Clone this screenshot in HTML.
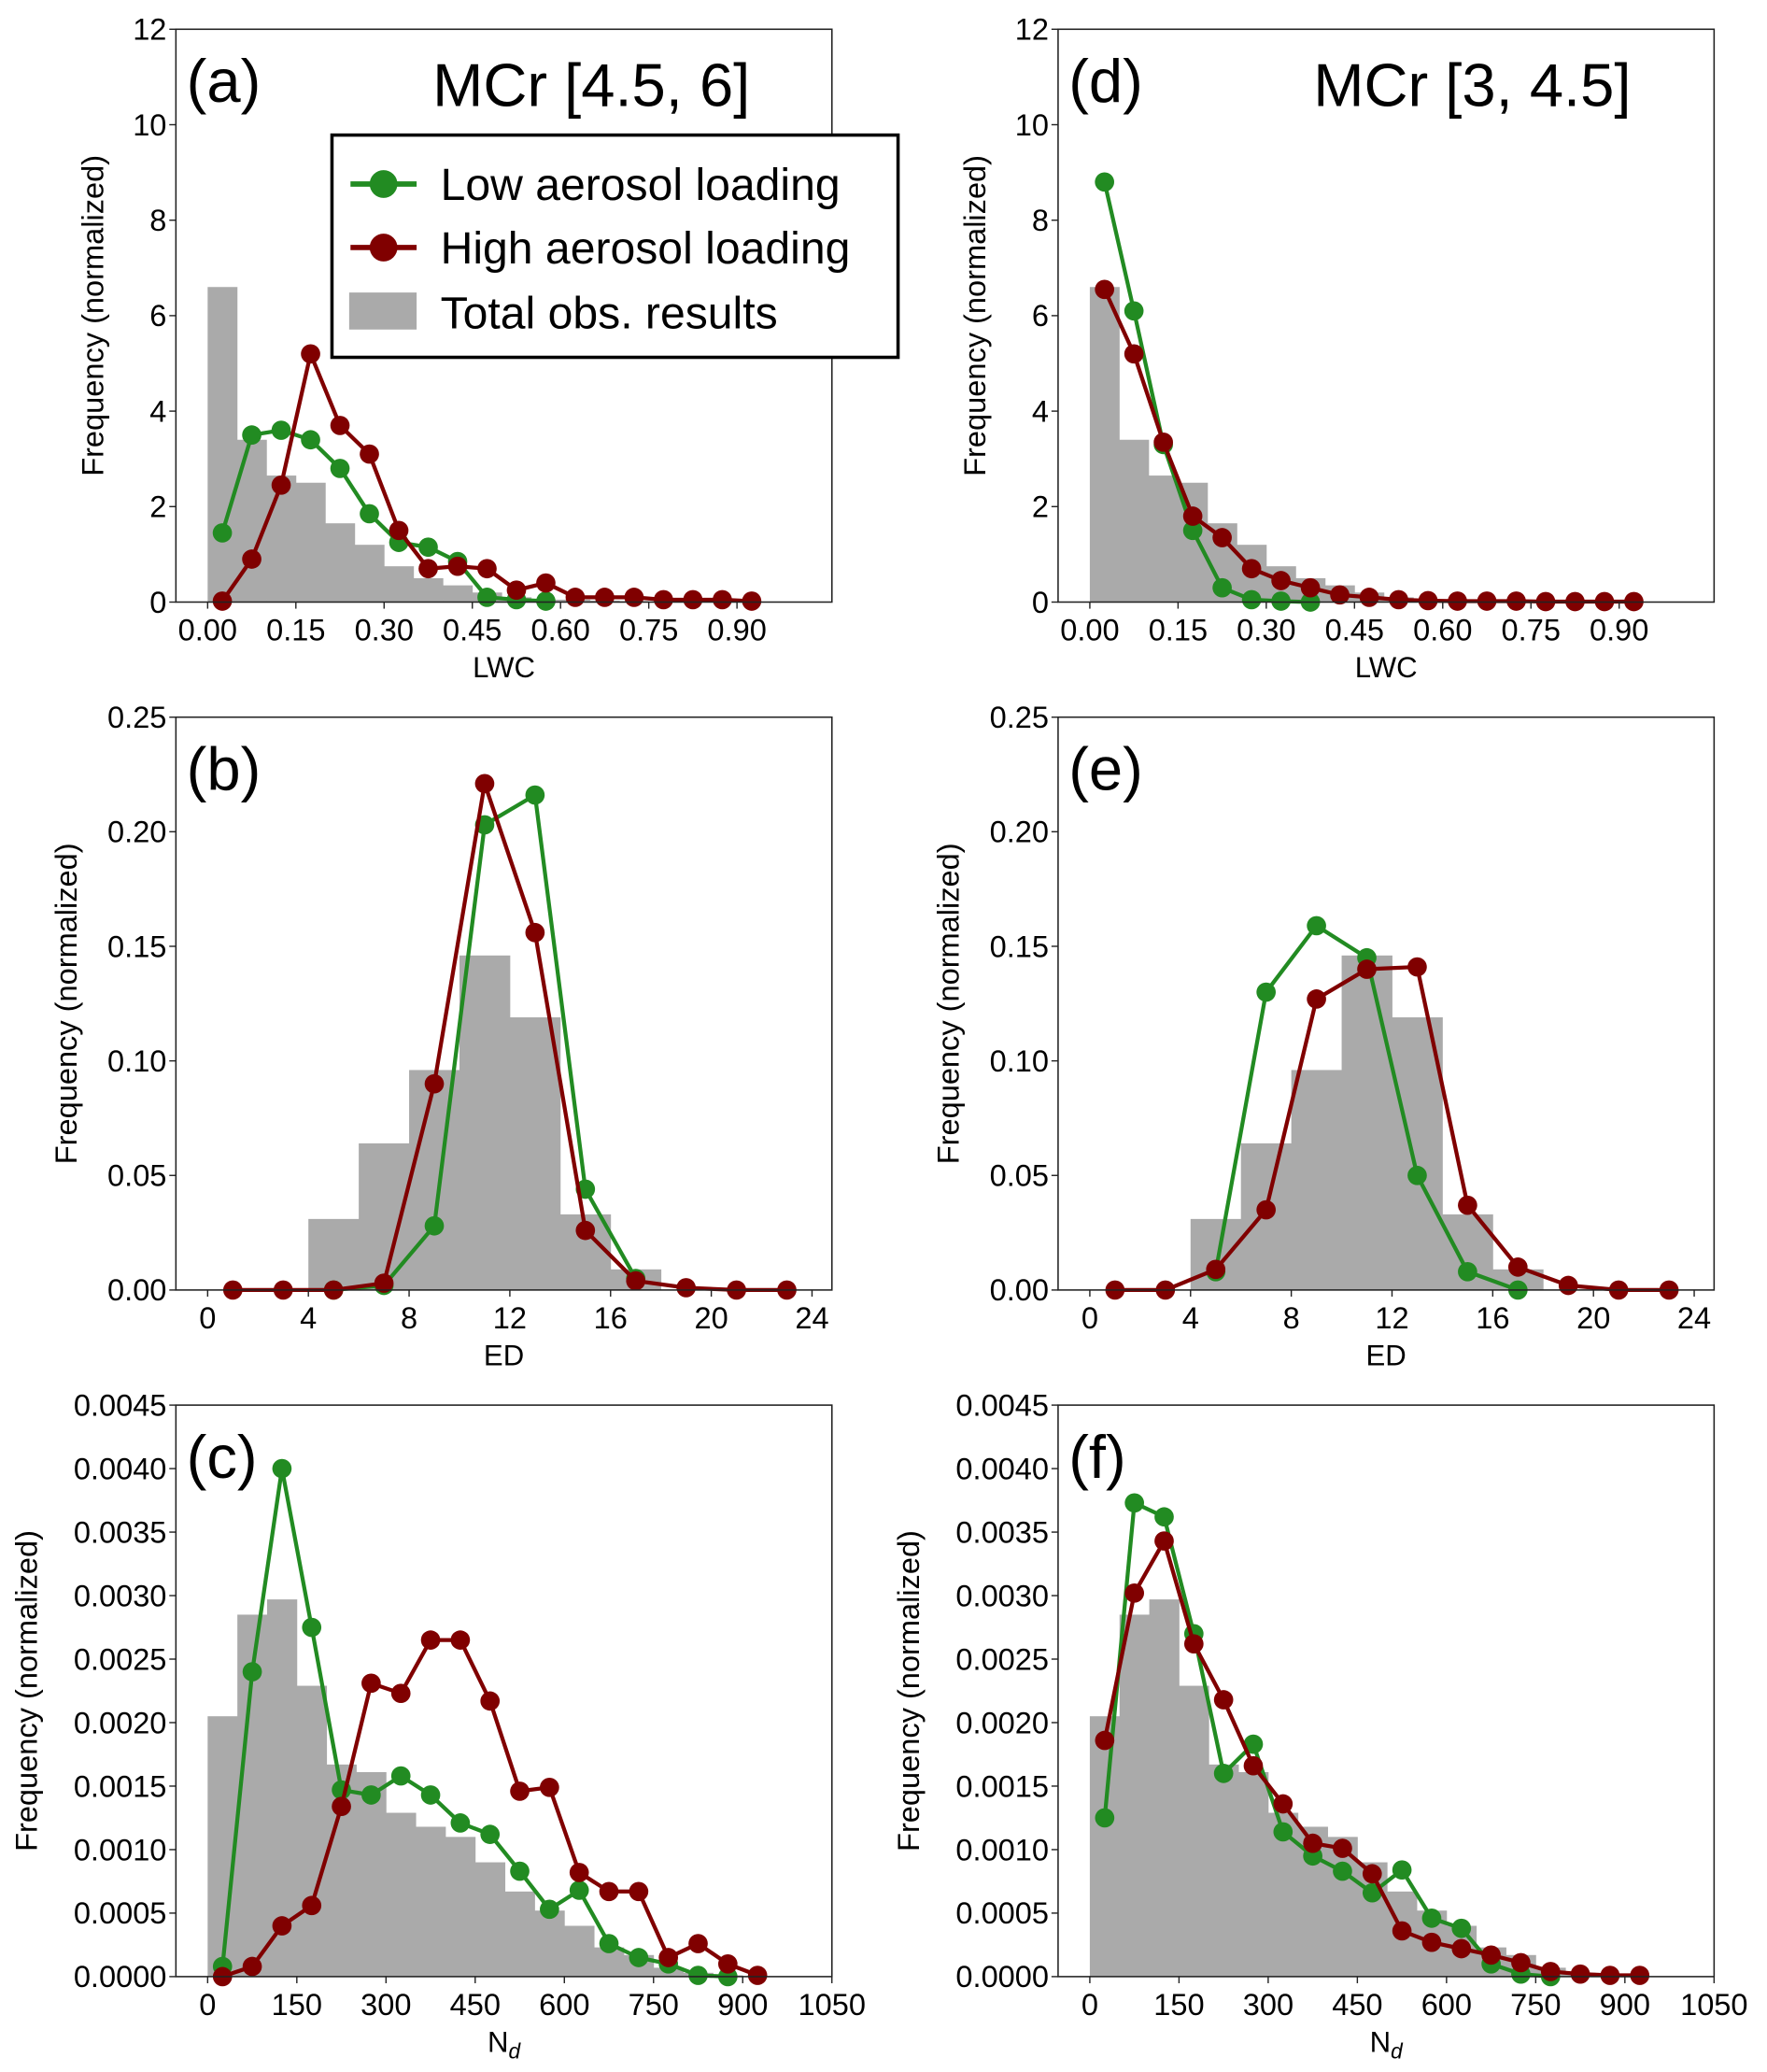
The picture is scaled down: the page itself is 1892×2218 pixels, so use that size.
<!DOCTYPE html>
<html><head><meta charset="utf-8">
<style>
html,body{margin:0;padding:0;background:#fff;}
svg{display:block;}
text{font-family:"Liberation Sans",sans-serif;fill:#000;}
</style></head>
<body>
<svg id="fig" width="1892" height="2218" viewBox="0 0 1336 1566" xmlns="http://www.w3.org/2000/svg"></svg>
<script>
// ---- data ----
const lwcBars = [6.6,3.4,2.65,2.5,1.65,1.2,0.75,0.5,0.35,0.2,0.1,0.05,0.05,0.03,0.02,0.01,0.01,0.01,0.01];
const aLow = [1.45,3.5,3.6,3.4,2.8,1.85,1.25,1.15,0.85,0.1,0.05,0.02];
const aHigh = [0.02,0.9,2.45,5.2,3.7,3.1,1.5,0.7,0.75,0.7,0.25,0.4,0.1,0.1,0.1,0.05,0.05,0.05,0.02];
const dLow = [8.8,6.1,3.3,1.5,0.3,0.05,0.02,0];
const dHigh = [6.55,5.2,3.35,1.8,1.35,0.7,0.45,0.3,0.15,0.1,0.05,0.03,0.02,0.02,0.02,0.01,0.01,0.01,0.01];
const lwcTicks = ["0.00","0.15","0.30","0.45","0.60","0.75","0.90"];
const lwcYTicks = ["0","2","4","6","8","10","12"];

const edBars = [0,0,0.031,0.064,0.096,0.146,0.119,0.033,0.009];
const bLow = [0,0.002,0.028,0.203,0.216,0.044,0.005];
const bHigh = [0,0,0,0.003,0.09,0.221,0.156,0.026,0.004,0.001,0,0];
const eLow = [0.008,0.13,0.159,0.145,0.05,0.008,0];
const eHigh = [0,0,0.009,0.035,0.127,0.14,0.141,0.037,0.01,0.002,0,0];
const edTicks = ["0","4","8","12","16","20","24"];
const edYTicks = ["0.00","0.05","0.10","0.15","0.20","0.25"];

const ndBars = [0.00205,0.00285,0.00297,0.00229,0.00167,0.00161,0.00129,0.00118,0.00110,0.00090,0.00067,0.00052,0.00040,0.00023,0.00017,0.00007,0.00003,0.00001];
const cLow = [0.00008,0.0024,0.0040,0.00275,0.00147,0.00143,0.00158,0.00143,0.00121,0.00112,0.00083,0.00053,0.00068,0.00026,0.00015,0.0001,0.00001,0];
const cHigh = [0,0.00008,0.0004,0.00056,0.00134,0.00231,0.00223,0.00265,0.00265,0.00217,0.00146,0.00149,0.00082,0.00067,0.00067,0.00015,0.00026,0.0001,0.00001];
const fLow = [0.00125,0.00373,0.00362,0.0027,0.0016,0.00183,0.00114,0.00095,0.00083,0.00066,0.00084,0.00046,0.00038,0.0001,0.00002,0];
const fHigh = [0.00186,0.00302,0.00343,0.00262,0.00218,0.00166,0.00136,0.00105,0.00101,0.00081,0.00036,0.00027,0.00022,0.00017,0.00011,0.00004,0.00002,0.00001,0.00001];
const ndTicks = ["0","150","300","450","600","750","900","1050"];
const ndYTicks = ["0.0000","0.0005","0.0010","0.0015","0.0020","0.0025","0.0030","0.0035","0.0040","0.0045"];

const NS = "http://www.w3.org/2000/svg";
const svg = document.getElementById('fig');
function mk(tag, attrs, parent){
  const e = document.createElementNS(NS, tag);
  for (const k in attrs) e.setAttribute(k, attrs[k]);
  (parent||svg).appendChild(e);
  return e;
}
const GREEN="#228B22", RED="#800000", GREY="#aaaaaa";

function panel(o){
  const g = mk('g', {});
  
  
  const L=o.L, R=o.R, T=o.T, B=o.B;
  const x = v => o.x0px + v * o.pxPerUnit;
  const y = v => B - (v / o.ymax) * (B - T);
  o.bars.forEach((h,i)=>{
    if (h<=0) return;
    const x0 = x(o.barStart + i*o.barW), x1 = x(o.barStart + (i+1)*o.barW);
    const r = mk('rect', {x:x0, y:y(h), width:x1-x0+0.3, height:B-y(h), fill:GREY}, g);
    
    
  });
  [[o.low, o.lowStart, GREEN, 'low-aerosol-series'], [o.high, o.highStart, RED, 'high-aerosol-series']].forEach(s=>{
    const arr=s[0], st=s[1], col=s[2];
    const pts = arr.map((v,i)=>[x(st + i*o.step), y(v)]);
    const pl = mk('polyline', {points:pts.map(p=>p.join(',')).join(' '), fill:'none', stroke:col, 'stroke-width':3}, g);
    
    
    pts.forEach(p=>{
      const c = mk('circle', {cx:p[0], cy:p[1], r:7.3, fill:col}, g);
      
      
    });
  });
  const fr = mk('rect', {x:L, y:T, width:R-L, height:B-T, fill:'none', stroke:'#222', 'stroke-width':1.1}, g);
  
  
  o.xt.forEach(t=>{
    const px = x(parseFloat(t));
    mk('line', {x1:px, x2:px, y1:B, y2:B+5, stroke:'#222', 'stroke-width':1}, g);
    const tx = mk('text', {x:px, y:B+29, 'text-anchor':'middle', 'font-size':23}, g);
    tx.textContent = t;
    
    
  });
  o.yt.forEach(t=>{
    const py = y(parseFloat(t));
    mk('line', {x1:L-5, x2:L, y1:py, y2:py, stroke:'#222', 'stroke-width':1}, g);
    const tx = mk('text', {x:L-7, y:py+8, 'text-anchor':'end', 'font-size':23}, g);
    tx.textContent = t;
    
    
  });
  const xl = mk('text', {x:(L+R)/2, y:B+57, 'text-anchor':'middle', 'font-size':22}, g);
  if (o.xlabel==='Nd'){ xl.innerHTML = 'N<tspan font-size="16" font-style="italic" dy="5">d</tspan>'; }
  else xl.textContent = o.xlabel;
  
  
  const yl = mk('text', {x:o.ylx, y:(T+B)/2, 'text-anchor':'middle', 'font-size':23, transform:`rotate(-90 ${o.ylx} ${(T+B)/2})`}, g);
  yl.textContent = 'Frequency (normalized)';
  
  
  const pl = mk('text', {x:L+8, y:T+55, 'font-size':46}, g);
  pl.textContent = '(' + o.letter + ')';
  
  
  if (o.title){
    const tt = mk('text', {x:o.titleX, y:T+58, 'font-size':46}, g);
    tt.textContent = o.title;
    
    
  }
}

const cols = [{L:133,R:629,x0:157,ylOff:0},{L:800,R:1296,x0:824,ylOff:667}];
cols.forEach((c,ci)=>{
  panel({letter: ci?'d':'a', L:c.L,R:c.R,T:22,B:455, x0px:c.x0, pxPerUnit:444.7, ymax:12,
    bars:lwcBars, barStart:0, barW:0.05, low: ci?dLow:aLow, high: ci?dHigh:aHigh, lowStart:0.025, highStart:0.025, step:0.05,
    xt:lwcTicks, yt:lwcYTicks, xlabel:'LWC', ylx:78+c.ylOff,
    title: ci?'MCr [3, 4.5]':'MCr [4.5, 6]', titleX: ci?993:327});
  panel({letter: ci?'e':'b', L:c.L,R:c.R,T:542,B:975, x0px:c.x0, pxPerUnit:19.04, ymax:0.25,
    bars:edBars, barStart:0, barW:2, low: ci?eLow:bLow, high: ci?eHigh:bHigh, lowStart:5, highStart:1, step:2,
    xt:edTicks, yt:edYTicks, xlabel:'ED', ylx:58+c.ylOff});
  panel({letter: ci?'f':'c', L:c.L,R:c.R,T:1062,B:1494, x0px:c.x0, pxPerUnit:0.4495, ymax:0.0045,
    bars:ndBars, barStart:0, barW:50, low: ci?fLow:cLow, high: ci?fHigh:cHigh, lowStart:25, highStart:25, step:50,
    xt:ndTicks, yt:ndYTicks, xlabel:'Nd', ylx:28+c.ylOff});
});

const lg = mk('g', {});


mk('rect', {x:251, y:102, width:428, height:168, fill:'#fff', stroke:'#000', 'stroke-width':2.5}, lg);
[[GREEN,'Low aerosol loading',139],[RED,'High aerosol loading',187]].forEach(e=>{
  mk('line', {x1:265, x2:315, y1:e[2], y2:e[2], stroke:e[0], 'stroke-width':4}, lg);
  mk('circle', {cx:290, cy:e[2], r:10.5, fill:e[0]}, lg);
  const t = mk('text', {x:333, y:e[2]+12, 'font-size':34}, lg);
  t.textContent = e[1];
  
  
});
mk('rect', {x:264, y:221, width:51, height:28, fill:GREY}, lg);
const t3 = mk('text', {x:333, y:248, 'font-size':34}, lg);
t3.textContent = 'Total obs. results';


</script>
</body></html>
